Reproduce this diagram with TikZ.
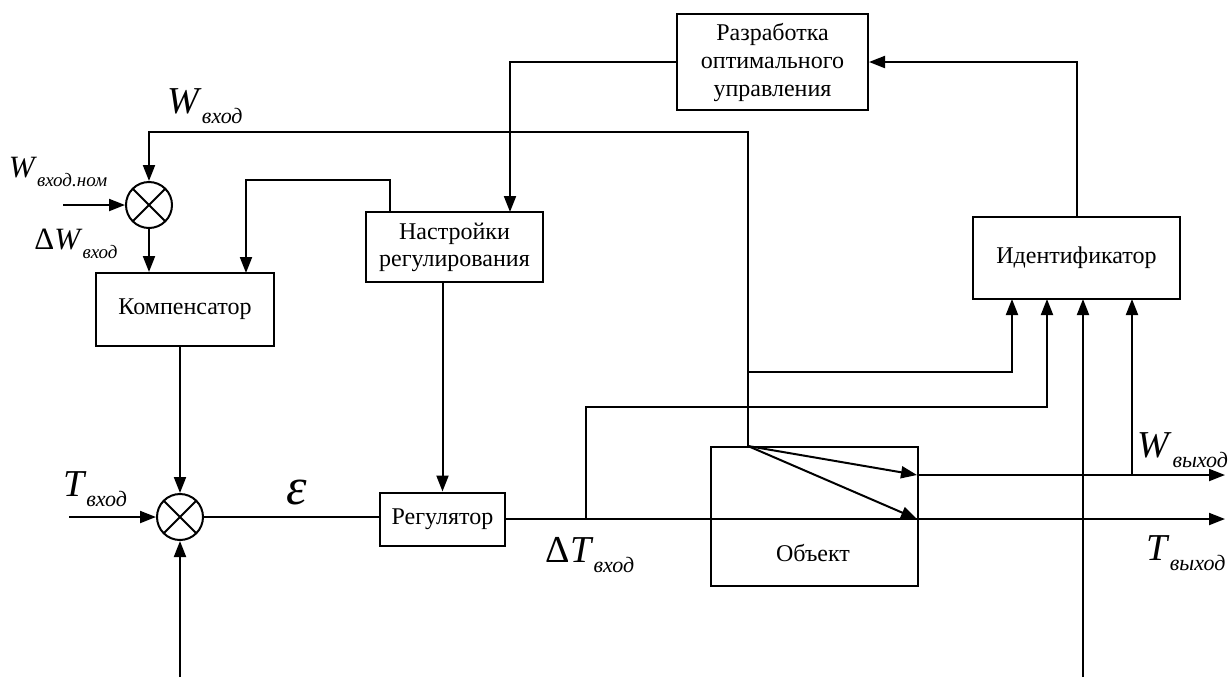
\documentclass[tikz,border=0pt]{standalone}
\usepackage{fontspec}
\setmainfont{Liberation Serif}
\usepackage{tikz}
\usetikzlibrary{arrows.meta,positioning}

\tikzset{
blk/.style={draw,line width=1pt,align=center,inner sep=2pt,font=\fontsize{12}{13.5}\selectfont},
sum/.style={draw,circle,line width=1pt,minimum size=23pt,inner sep=0pt,
  path picture={\draw[line width=1pt]
  (path picture bounding box.north west)--(path picture bounding box.south east)
  (path picture bounding box.north east)--(path picture bounding box.south west);}},
}
\newcommand{\bigsig}[3][]{{\fontsize{19}{19}\selectfont#1\textit{#2}}\raisebox{-5pt}{\fontsize{11}{11}\selectfont\textit{#3}}}
\newcommand{\smsig}[3][]{{\fontsize{15.5}{15.5}\selectfont#1\textit{#2}}\raisebox{-4.5pt}{\fontsize{9.5}{9.5}\selectfont\textit{#3}}}

\begin{document}
\begin{tikzpicture}[x=0.5pt,y=-0.5pt,line width=1pt,>={Triangle[length=8pt,width=6pt]}]
\useasboundingbox (0,0) rectangle (1228,677);
% blocks
\node[blk,minimum width=95.5pt,minimum height=48pt,font=\fontsize{12}{14}\selectfont] (razr) at (772.5,62) {Разработка\\оптимального\\управления};
\node[blk,minimum width=88.5pt,minimum height=35pt] (nastr) at (454.5,247) {Настройки\\регулирования};
\node[blk,minimum width=89pt,minimum height=36.5pt] (komp) at (185,309.5) {Компенсатор};
\node[blk,minimum width=103.5pt,minimum height=41pt] (ident) at (1076.5,258) {Идентификатор};
\node[blk,minimum width=62.5pt,minimum height=26.5pt] (reg) at (442.5,519) {Регулятор};
\node[blk,minimum width=103.5pt,minimum height=69.5pt,anchor=north west] (obj) at (710,446) {};
\node[font=\fontsize{12}{13.5}\selectfont] (objtxt) at (813,553) {Объект};
\node[sum] (sumW) at (149,205) {};
\node[sum] (sumT) at (180,517) {};
% points
\coordinate (wsrc) at (748,446);
\coordinate (wtop) at (149,132);
\coordinate (wbr) at (748,372);
\coordinate (wnom) at (63,205);
\coordinate (tin) at (69,517);
\coordinate (bin) at (180,677);
\coordinate (nin) at (510,212);
\coordinate (nout) at (390,212);
\coordinate (nbend) at (390,180);
\coordinate (kin) at (246,273);
\coordinate (wout) at (917,475);
\coordinate (tout) at (917,519);
\coordinate (wend) at (1225,475);
\coordinate (tend) at (1225,519);
\coordinate (dT) at (586,519);
\coordinate (dTup) at (586,407);
\coordinate (wbr2) at (1132,475);
\coordinate (ext2) at (1083,677);
\coordinate (in1) at (1012,299);
\coordinate (in2) at (1047,299);
\coordinate (in3) at (1083,299);
\coordinate (in4) at (1132,299);
% connections
\draw[->] (wsrc) |- (wtop) -- (sumW);
\draw[->] (wnom) -- (sumW.west);
\draw[->] (sumW.south) -- (sumW.south |- komp.north);
\draw[->] (nout) -- (nbend) -| (kin);
\draw[->] (razr.west) -| (nin);
\draw[->] (ident.north) |- (razr.east);
\draw[->] (nastr.south -| reg.north) -- (reg.north);
\draw[->] (komp.south -| sumT.north) -- (sumT.north);
\draw[->] (tin) -- (sumT.west);
\draw[->] (bin) -- (sumT.south);
\draw (sumT.east) -- (sumT.east -| reg.west);
\draw[->] (reg.east |- tend) -- (tend);
\draw[->] (dT) -- (dTup) -| (in2);
\draw[->] (wbr) -| (in1);
\draw[->] (wsrc) -- (wout);
\draw[->] (wsrc) -- (tout);
\draw[->] (wout) -- (wend);
\draw[->] (wbr2) -- (in4);
\draw[->] (ext2) -- (in3);
% labels
\node (lWin) at (205,106) {\bigsig{W}{вход}};
\node (lWnom) at (58,172) {\smsig{W}{вход.ном}};
\node (ldW) at (76,244) {\smsig[Δ]{W}{вход}};
\node (lTin) at (95,489) {\bigsig{T}{вход}};
\node (leps) at (297,492) {\fontsize{26}{26}\selectfont\textit{ε}};
\node (ldT) at (590,555) {\bigsig[Δ]{T}{вход}};
\node (lWout) at (1183,450) {\bigsig{W}{выход}};
\node (lTout) at (1186,553) {\bigsig{T}{выход}};
\end{tikzpicture}
\end{document}
